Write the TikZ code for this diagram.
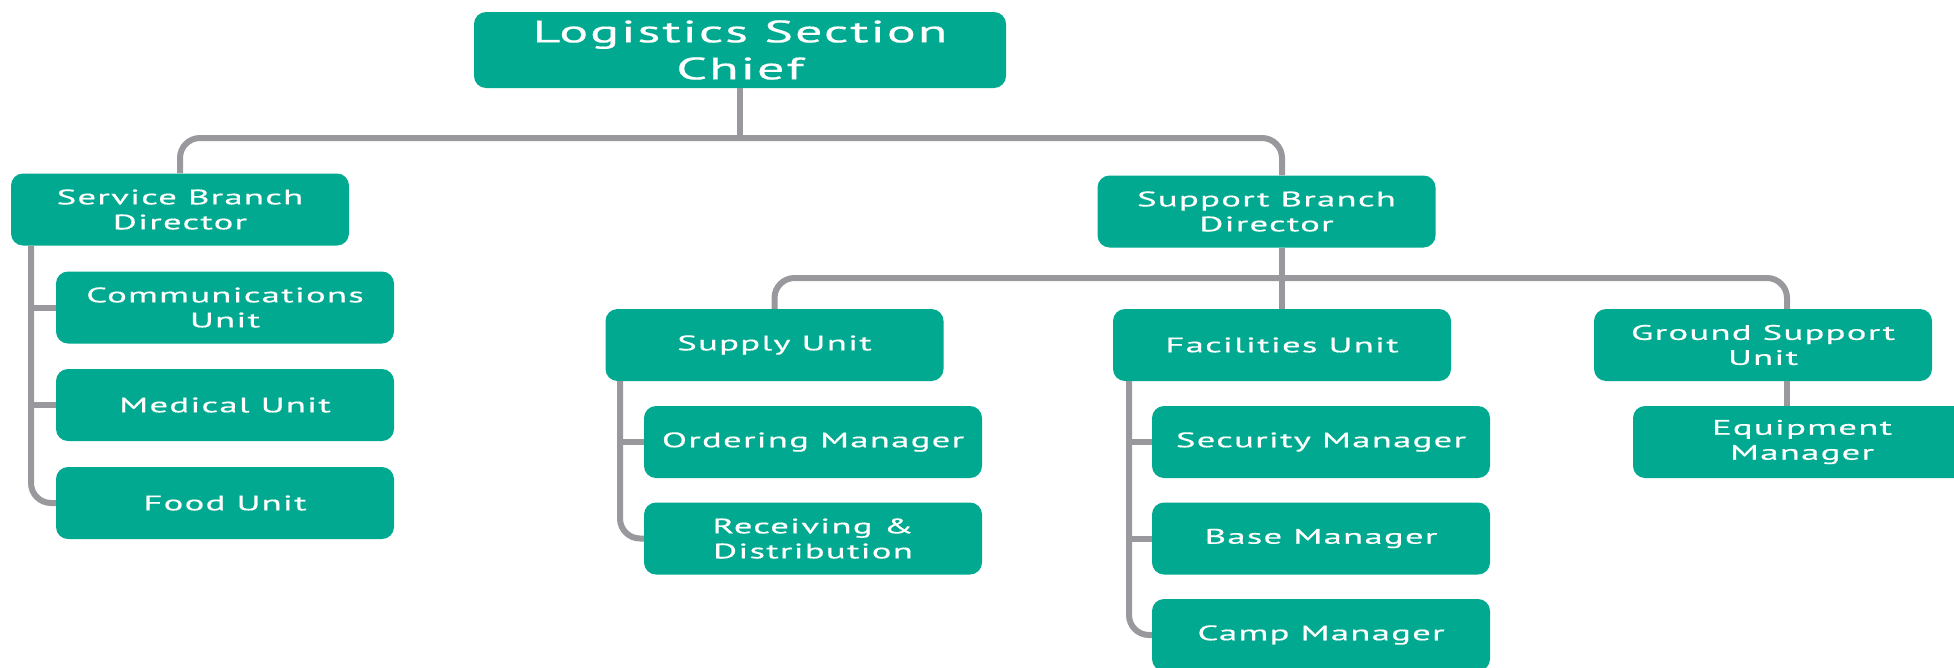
\documentclass[tikz,border=0pt]{standalone}
\usepackage{fontspec}
\setmainfont{PT Sans}[FakeStretch=1.75, LetterSpace=6, FakeBold=0.5]
\usepackage{tikz}
\definecolor{boxgreen}{HTML}{00A98F}
\definecolor{linegray}{HTML}{98989D}

\begin{document}
\begin{tikzpicture}[x = 1pt, y = -1pt,
  unit/.style = {fill=boxgreen, text=white, rounded corners=12, minimum width=338, minimum height=72, inner sep=0, align=center, font=\fontsize{21}{25}\selectfont},
  conn/.style = {draw=linegray, line width=6, rounded corners=20}]

\useasboundingbox (0, 0) rectangle (1954, 667);
\clip (0, 0) rectangle (1954, 667);

\node[unit, minimum width=532, minimum height=76, font=\fontsize{31}{37}\selectfont] (chief) at (740, 50) {Logistics Section\\Chief};

\node[unit] (service) at (180, 209.5) {Service Branch\\Director};
\node[unit] (support) at (1266.5, 211.5) {Support Branch\\Director};

\node[unit] (comm) at (225, 307.5) {Communications\\Unit};
\node[unit] (medical) at (225, 405) {Medical Unit};
\node[unit] (food) at (225, 503) {Food Unit};

\node[unit] (supply) at (774.5, 345) {Supply Unit};
\node[unit] (facil) at (1282, 345) {Facilities Unit};
\node[unit] (ground) at (1763, 345) {Ground Support\\Unit};

\node[unit] (ordering) at (813, 442) {Ordering Manager};
\node[unit] (receiving) at (813, 538.5) {Receiving \&\\Distribution};

\node[unit] (security) at (1321, 442) {Security Manager};
\node[unit] (base) at (1321, 538.5) {Base Manager};
\node[unit] (camp) at (1321, 635) {Camp Manager};

\node[unit] (equip) at (1802, 442) {Equipment\\Manager};

\coordinate (bar) at (740, 138);
\coordinate (subbar) at (1282, 278);
\coordinate (leftx) at (31, 0);
\coordinate (supplyx) at (620, 0);
\coordinate (facilx) at (1129, 0);
\coordinate (groundx) at (1787, 0);

\draw[conn] (chief.south) -- (bar);
\draw[conn] (service.north) |- (bar) -| (facil.north |- support.north);

\draw[conn] (support.south -| facil.north) -- (facil.north);
\draw[conn] (supply.north) |- (subbar) -| (ground.north -| groundx);
\draw[conn] (ground.south -| groundx) -- (equip.north -| groundx);

\draw[conn] (service.south -| leftx) |- (food.west);
\draw[conn] (comm.west -| leftx) -- (comm.west);
\draw[conn] (medical.west -| leftx) -- (medical.west);

\draw[conn] (supply.south -| supplyx) |- (receiving.west);
\draw[conn] (ordering.west -| supplyx) -- (ordering.west);

\draw[conn] (facil.south -| facilx) |- (camp.west);
\draw[conn] (security.west -| facilx) -- (security.west);
\draw[conn] (base.west -| facilx) -- (base.west);
\end{tikzpicture}
\end{document}
